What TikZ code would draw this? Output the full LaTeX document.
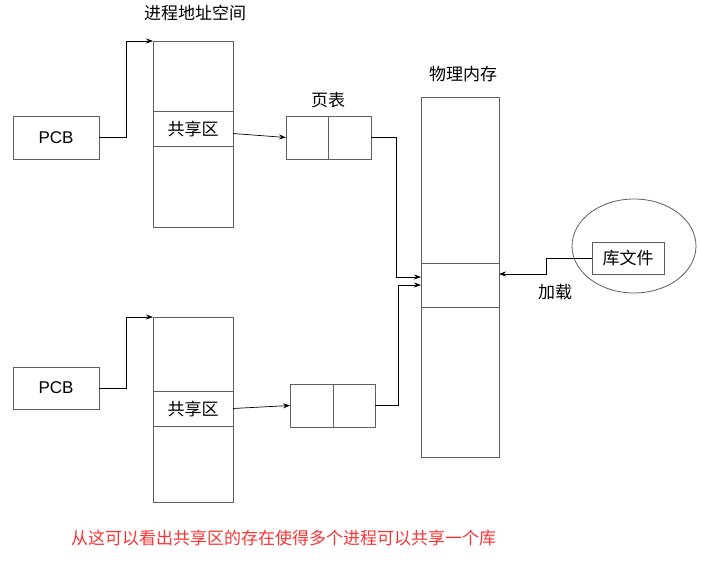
\documentclass[tikz,border=0pt]{standalone}
\usepackage{fontspec}
\setmainfont{Liberation Sans}
\newfontfamily\cjk{Noto Sans CJK SC}
\usetikzlibrary{arrows.meta, positioning, shapes.geometric}
\definecolor{Linea}{RGB}{95,95,95}
\definecolor{Rojo}{RGB}{255,51,51}

\begin{document}
\begin{tikzpicture}[
  x=1pt, y=-1pt,
  font=\fontsize{17}{20}\selectfont,
  box/.style={
    draw=Linea, line width=0.8pt,
    inner sep=0pt, outer sep=0pt
  },
  lbl/.style={font=\cjk\fontsize{17}{20}\selectfont},
  arr/.style={-{Stealth[length=7pt,width=5pt]}, black, line width=0.7pt}
]
\useasboundingbox (0,0) rectangle (701,561);

% first process
\node[lbl] (title1) at (195,13) {进程地址空间};
\node[box, minimum width=80pt, minimum height=186pt] (proc1) at (193,134) {};
\node[box, lbl, minimum width=80pt, minimum height=35pt] (share1) at (193,128.5) {共享区};
\node[box, minimum width=86pt, minimum height=43pt] (pcb1) at (56,137.5) {PCB};
\node[lbl] (ptlabel) at (328,100) {页表};
\node[box, minimum width=42pt, minimum height=43pt] (pt1a) at (307,137.5) {};
\node[box, minimum width=43pt, minimum height=43pt, right=0pt of pt1a] (pt1b) {};

% second process
\node[box, minimum width=86pt, minimum height=42pt] (pcb2) at (56,388) {PCB};
\node[box, minimum width=80pt, minimum height=185pt] (proc2) at (193,409.5) {};
\node[box, lbl, minimum width=80pt, minimum height=35pt] (share2) at (193,408.5) {共享区};
\node[box, minimum width=43pt, minimum height=43pt] (pt2a) at (311.5,405.5) {};
\node[box, minimum width=42pt, minimum height=43pt, right=0pt of pt2a] (pt2b) {};

% physical memory and library
\node[lbl] (memlabel) at (463,74) {物理内存};
\node[box, minimum width=78pt, minimum height=360pt] (mem) at (460,277) {};
\node[box, minimum width=78pt, minimum height=44pt] (memshare) at (460,285) {};
\node[draw=Linea, line width=0.8pt, ellipse, minimum width=124pt, minimum height=94pt] (libarea) at (634,246) {};
\node[box, lbl, minimum width=72pt, minimum height=32pt] (lib) at (628,258) {库文件};
\node[lbl] (load) at (555,292) {加载};

\node[lbl, text=Rojo] (note) at (283.5,538) {从这可以看出共享区的存在使得多个进程可以共享一个库};

\draw[arr] (pcb1.east) -| ([xshift=-27pt]proc1.north west) -- (proc1.north west);
\draw[arr] (pcb2.east) -| ([xshift=-27pt]proc2.north west) -- (proc2.north west);
\draw[arr] ([yshift=-5pt]share1.east) -- (pt1a.west);
\draw[arr] (share2.east) -- (pt2a.west);
\draw[arr] (pt1b.east) -| ([xshift=-25pt,yshift=8pt]memshare.west) -- ([yshift=8pt]memshare.west);
\draw[arr] (pt2b.east) -| ([xshift=-23pt]memshare.west) -- (memshare.west);
\draw[arr] (lib.west) -- ++(-46,0) |- ([yshift=11pt]memshare.east);

\end{tikzpicture}
\end{document}
